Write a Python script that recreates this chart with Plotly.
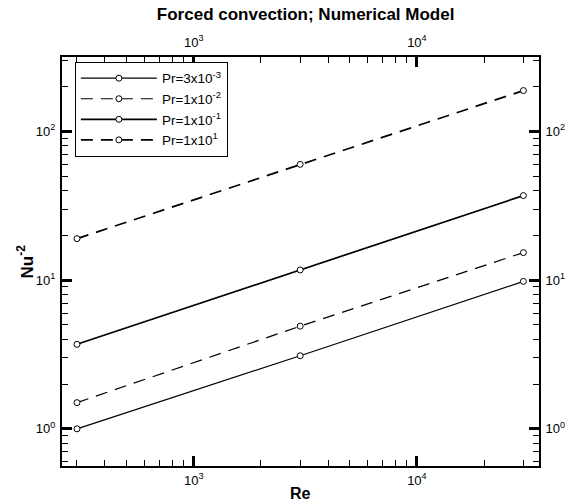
import plotly.graph_objects as go

re_vals = [300, 3000, 30000]
pr_labels = ["Pr=3x10<sup>-3</sup>", "Pr=1x10<sup>-2</sup>", "Pr=1x10<sup>-1</sup>", "Pr=1x10<sup>1</sup>"]
nu_pr_0003 = [1.0, 3.1, 9.8]
nu_pr_001 = [1.5, 4.9, 15.3]
nu_pr_01 = [3.7, 11.7, 37.0]
nu_pr_10 = [19.0, 60.0, 188.0]
series = [nu_pr_0003, nu_pr_001, nu_pr_01, nu_pr_10]
dashes = ["solid", "12px,8px", "solid", "12px,8px"]
widths = [1.2, 1.2, 1.7, 1.7]

x_ticks = [1e3, 1e4]
x_ticktext = ["10<sup>3</sup>", "10<sup>4</sup>"]
y_ticks = [1, 10, 100]
y_ticktext = ["10<sup>0</sup>", "10<sup>1</sup>", "10<sup>2</sup>"]

x_range = [2.41, 4.547]
y_range = [-0.25, 2.5]

x_minor = [m * 10 ** d for d in range(2, 5) for m in range(2, 10)]
y_minor = [m * 10 ** d for d in range(-1, 3) for m in range(2, 10)]

FONT = "Liberation Sans, Arial, sans-serif"

fig = go.Figure()
for lab, ys, dsh, w in zip(pr_labels, series, dashes, widths):
    fig.add_trace(go.Scatter(
        x=re_vals, y=ys, name=lab, mode="lines+markers",
        line=dict(color="black", width=w, dash=dsh),
        marker=dict(symbol="circle", size=6, color="white",
                    line=dict(color="black", width=1)),
    ))

# dummy trace for overlay axes (labels on top/right)
fig.add_trace(go.Scatter(x=re_vals, y=nu_pr_0003, xaxis="x2", yaxis="y2",
                         mode="lines", opacity=0, showlegend=False, hoverinfo="skip"))

common = dict(type="log", showgrid=False, zeroline=False, showline=True,
              linecolor="black", linewidth=2, ticks="inside", ticklen=10,
              tickwidth=3, tickcolor="black", automargin=False,
              tickfont=dict(family=FONT, size=13, color="black"))
minor_style = dict(ticks="inside", ticklen=6, tickwidth=1, tickcolor="black")

fig.update_layout(
    width=566, height=504,
    margin=dict(l=62, r=27, t=57, b=38, autoexpand=False),
    paper_bgcolor="white", plot_bgcolor="white",
    title=dict(text="<b>Forced convection; Numerical Model</b>", x=0.54, xanchor="center",
               y=0.972, yanchor="middle", font=dict(family=FONT, size=17, color="black")),
    xaxis=dict(range=x_range, tickvals=x_ticks, ticktext=x_ticktext,
               minor=dict(tickvals=x_minor, **minor_style), ticklabelstandoff=1,
               **common),
    yaxis=dict(range=y_range, tickvals=y_ticks, ticktext=y_ticktext,
               minor=dict(tickvals=y_minor, **minor_style), ticklabelstandoff=2,
               **common),
    xaxis2=dict(range=x_range, tickvals=x_ticks, ticktext=x_ticktext, overlaying="x", side="top",
                anchor="y", minor=dict(tickvals=x_minor, **minor_style), ticklabelstandoff=3,
                **common),
    yaxis2=dict(range=y_range, tickvals=y_ticks, ticktext=y_ticktext, overlaying="y", side="right",
                anchor="x", minor=dict(tickvals=y_minor, **minor_style), ticklabelstandoff=2,
                **common),
    legend=dict(x=0.027, y=0.988, xanchor="left", yanchor="top",
                bordercolor="black", borderwidth=1, bgcolor="white",
                font=dict(family=FONT, size=13.5, color="black"),
                itemwidth=76, tracegroupgap=0),
    showlegend=True,
    annotations=[
        dict(text="<b>Re</b>", xref="paper", yref="paper", x=0.5, y=0, xanchor="center",
             yanchor="top", yshift=-17, showarrow=False,
             font=dict(family=FONT, size=16, color="black")),
        dict(text="<b>Nu<sup>-2</sup></b>", xref="paper", yref="paper", x=0, y=0.5,
             xanchor="center", yanchor="middle", xshift=-37, textangle=-90, showarrow=False,
             font=dict(family=FONT, size=17, color="black")),
    ],
)

fig.write_html("out.html")
